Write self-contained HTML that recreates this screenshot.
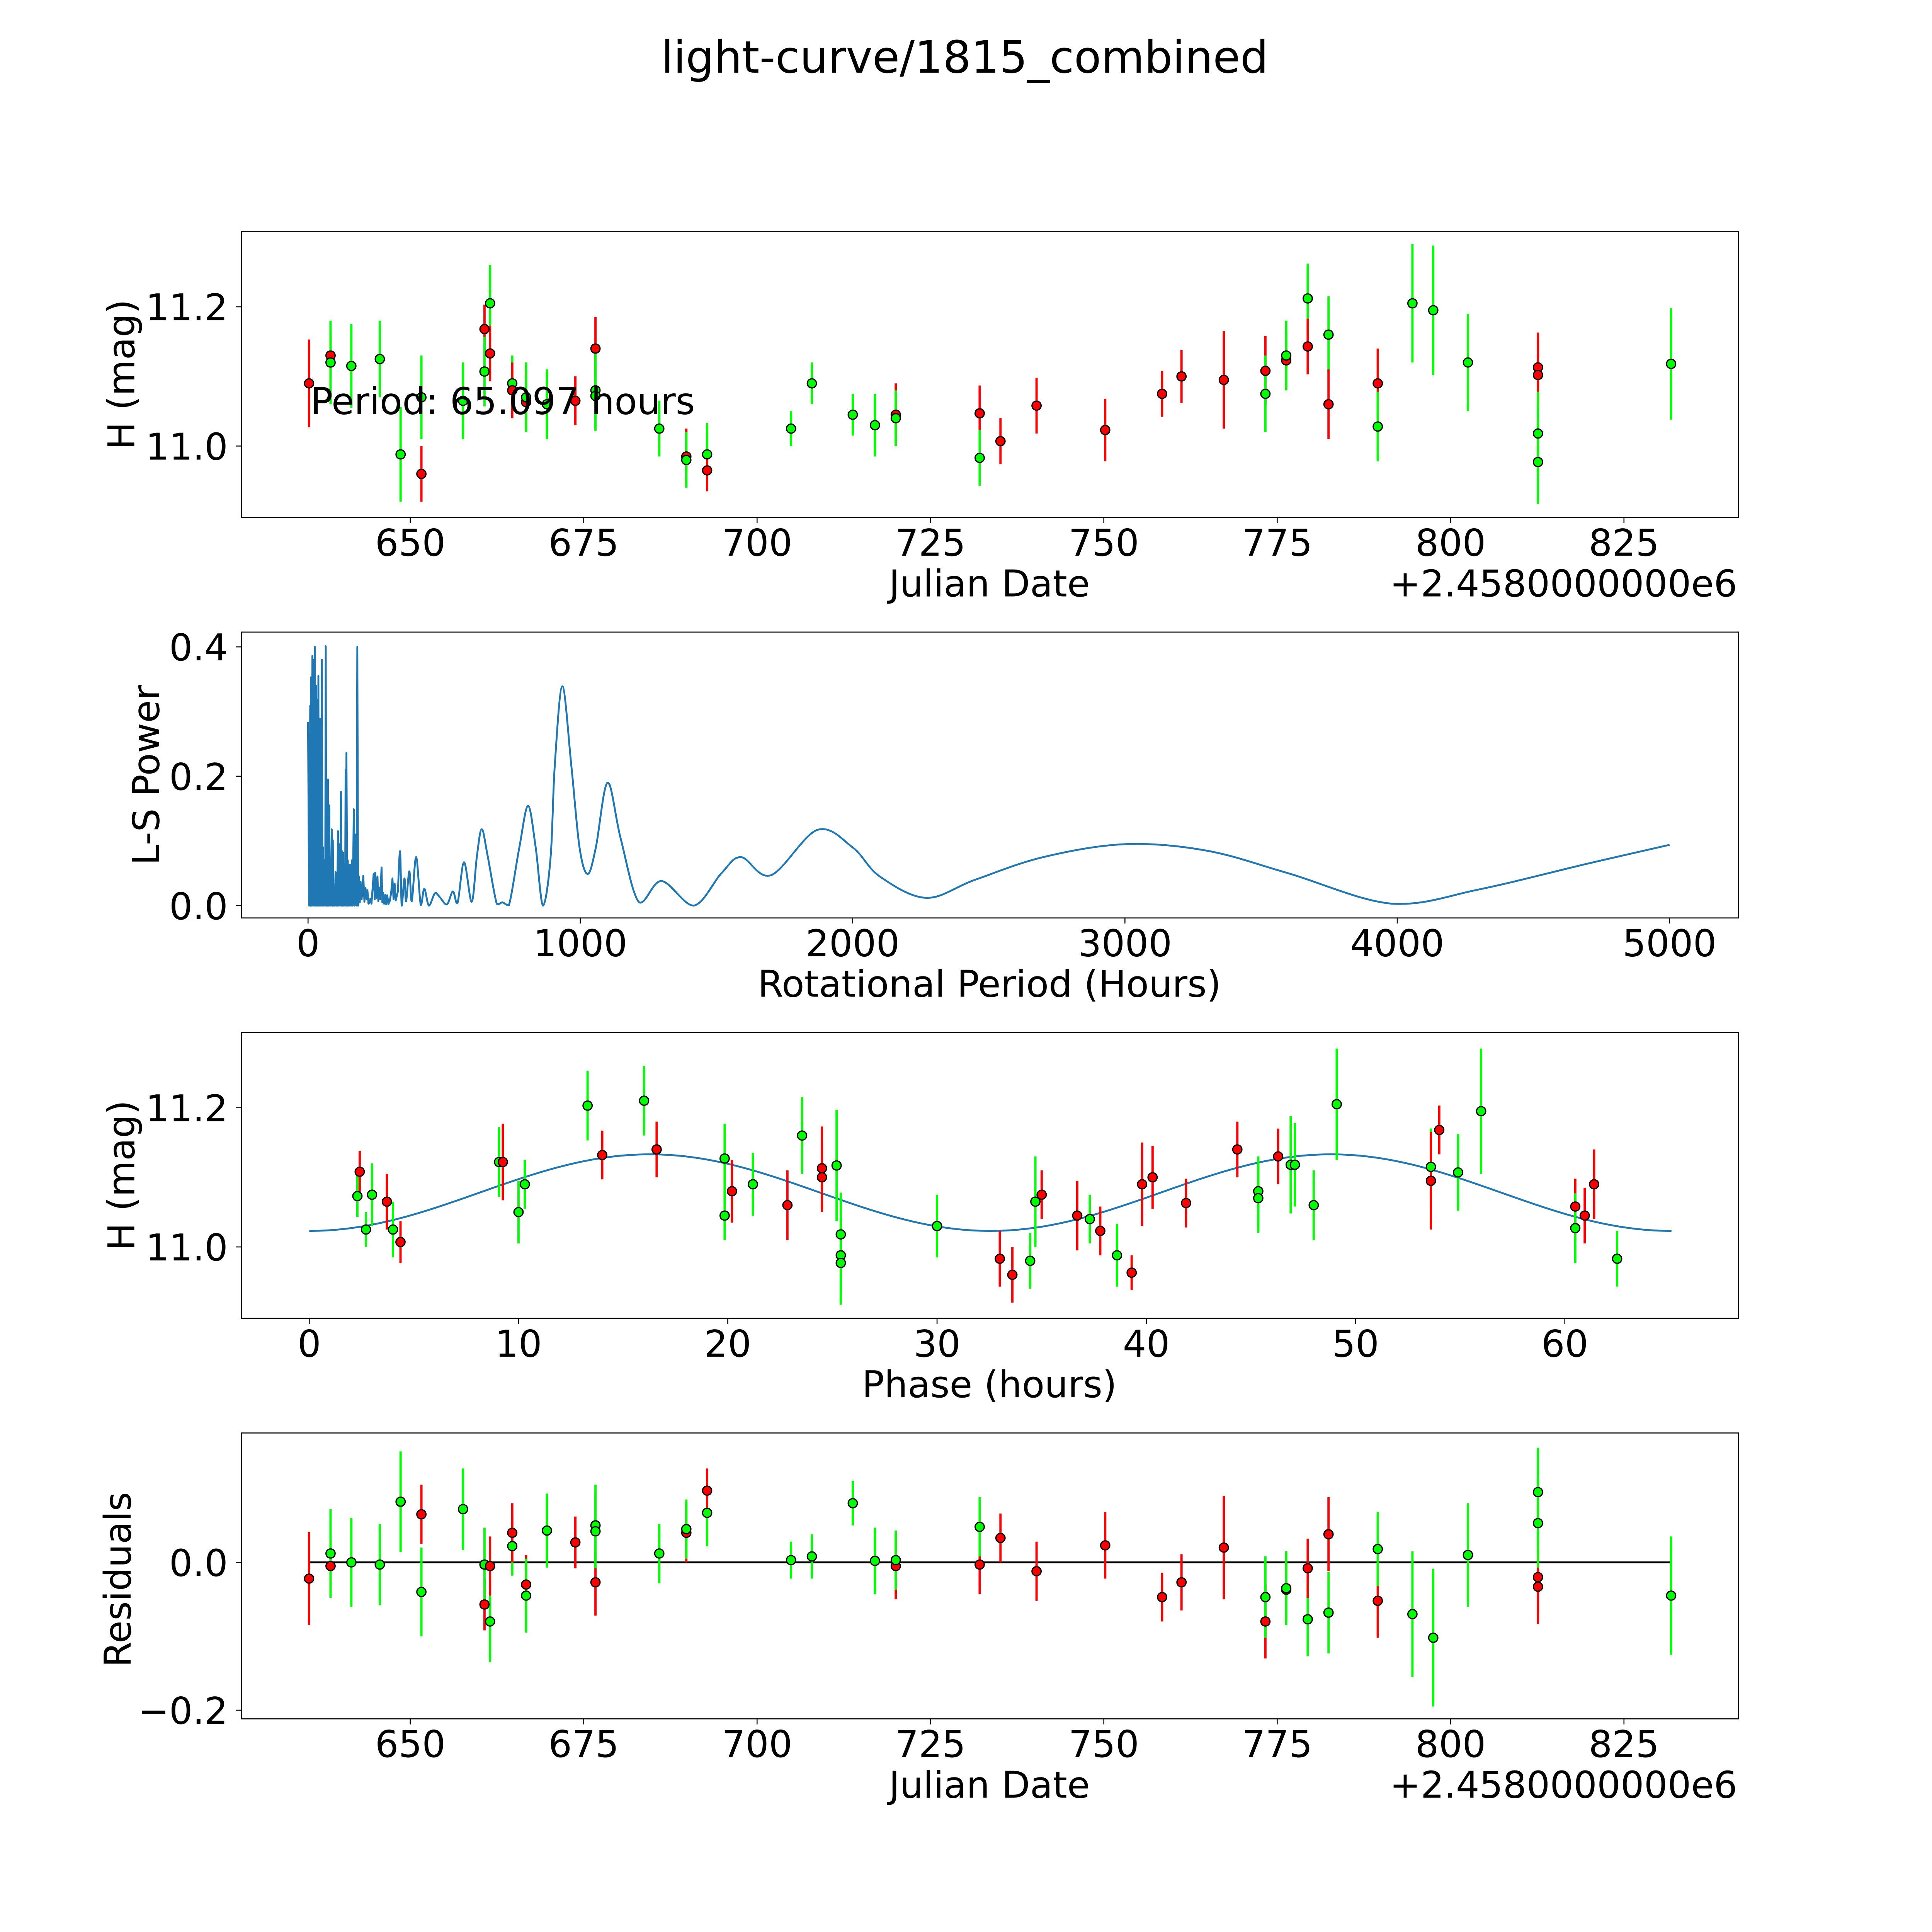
<!DOCTYPE html>
<html><head><meta charset="utf-8"><style>
html,body{margin:0;padding:0;background:#fff;width:100vw;height:100vh;overflow:hidden}
svg{display:block;width:100vw;height:100vh;font-family:"DejaVu Sans","Liberation Sans",sans-serif}
</style></head><body>
<svg id="fig" xmlns="http://www.w3.org/2000/svg" viewBox="0 0 1568 1568" preserveAspectRatio="none">
<rect width="1568" height="1568" fill="#fff"/>
<text x="783" y="59" font-size="36" text-anchor="middle">light-curve/1815_combined</text>
<g id="p1"></g>
<g id="p2"></g>
<g id="p3"></g>
<g id="p4"></g>
</svg>
<script>
// ---- light curve data (JD - 2458000) ----
const lcDates = [635.4,638.5,638.5,641.5,645.6,648.6,651.6,651.6,657.6,660.7,660.7,661.5,661.5,664.7,664.7,666.7,666.7,669.7,673.8,676.7,676.7,676.7,685.9,689.8,689.8,692.8,692.8,704.9,707.9,713.8,717.0,720.0,720.0,732.1,732.1,735.1,740.3,750.2,758.4,761.2,767.3,773.3,773.3,776.3,776.3,779.4,779.4,782.4,782.4,789.5,789.5,794.5,797.5,802.5,812.6,812.6,812.6,812.6,831.8];
const lcMags = [11.09,11.13,11.12,11.115,11.125,10.988,10.96,11.07,11.065,11.168,11.107,11.205,11.133,11.09,11.08,11.063,11.07,11.06,11.065,11.14,11.08,11.072,11.025,10.985,10.98,10.988,10.965,11.025,11.09,11.045,11.03,11.045,11.04,11.047,10.983,11.007,11.058,11.023,11.075,11.1,11.095,11.108,11.075,11.123,11.13,11.212,11.143,11.16,11.06,11.09,11.028,11.205,11.195,11.12,11.113,11.102,11.018,10.977,11.118];
const lcErrs = [0.063,0.034,0.06,0.06,0.055,0.068,0.04,0.06,0.055,0.035,0.05,0.055,0.04,0.04,0.04,0.04,0.05,0.05,0.035,0.045,0.055,0.05,0.04,0.04,0.04,0.045,0.03,0.025,0.03,0.03,0.045,0.045,0.04,0.04,0.04,0.033,0.04,0.045,0.033,0.038,0.07,0.05,0.055,0.04,0.05,0.05,0.04,0.055,0.05,0.05,0.05,0.085,0.093,0.07,0.05,0.05,0.06,0.06,0.08];
const lcColors = ['r','r','g','g','g','g','r','g','g','r','g','g','r','g','r','r','g','g','r','r','g','g','g','r','g','g','r','g','g','g','g','r','g','r','g','r','r','r','r','r','r','r','g','r','g','g','r','g','r','r','g','g','g','g','r','r','g','g','g'];
const resVals = [-0.022,-0.005,0.012,0.0,-0.003,0.082,0.065,-0.04,0.072,-0.057,-0.003,-0.08,-0.005,0.022,0.04,-0.03,-0.045,0.043,0.027,-0.027,0.05,0.042,0.012,0.04,0.045,0.067,0.097,0.003,0.008,0.08,0.002,-0.005,0.003,-0.003,0.048,0.033,-0.012,0.023,-0.047,-0.027,0.02,-0.08,-0.047,-0.037,-0.035,-0.077,-0.008,-0.068,0.038,-0.052,0.018,-0.07,-0.102,0.01,-0.02,-0.033,0.053,0.095,-0.045];
// ---- phase-folded data ----
const phPhases = [2.41,2.3,2.71,3.0,3.71,4.0,4.36,9.07,9.25,10.0,10.3,13.3,14.0,16.0,16.6,19.85,19.85,20.2,21.2,22.85,23.55,24.5,24.5,25.2,25.4,25.4,25.4,30.0,33.0,33.6,34.45,34.7,35.0,36.7,37.3,37.8,38.6,39.3,39.8,40.3,41.9,44.35,45.35,45.35,46.3,46.9,47.1,48.0,49.1,53.6,53.6,54.0,54.9,56.0,60.5,60.5,60.95,61.4,62.5];
const phMags = [11.108,11.073,11.025,11.075,11.065,11.025,11.007,11.122,11.122,11.05,11.09,11.203,11.132,11.21,11.14,11.127,11.045,11.08,11.09,11.06,11.16,11.113,11.1,11.117,11.018,10.988,10.977,11.03,10.983,10.96,10.98,11.065,11.075,11.045,11.04,11.023,10.988,10.963,11.09,11.1,11.063,11.14,11.08,11.07,11.13,11.118,11.118,11.06,11.205,11.115,11.095,11.168,11.107,11.195,11.058,11.027,11.045,11.09,10.983];
const phErrs = [0.03,0.03,0.025,0.045,0.04,0.04,0.03,0.05,0.055,0.045,0.035,0.05,0.035,0.05,0.04,0.05,0.035,0.045,0.045,0.05,0.055,0.06,0.05,0.08,0.06,0.05,0.06,0.045,0.04,0.04,0.04,0.065,0.035,0.05,0.035,0.035,0.045,0.025,0.06,0.045,0.035,0.04,0.05,0.05,0.04,0.07,0.06,0.05,0.08,0.055,0.07,0.035,0.055,0.09,0.04,0.05,0.04,0.05,0.04];
const phColors = ['r','g','g','g','r','g','r','g','r','g','g','g','r','g','r','g','g','r','g','r','g','r','r','g','g','g','g','g','r','r','g','g','r','r','g','r','g','r','r','r','r','r','g','g','r','g','g','g','g','g','r','r','g','g','r','g','r','r','g'];
const modelPeriod = 65.097, modelMean = 11.078, modelAmp = 0.055;
// ---- periodogram ----
const lsPeriodsSpiky = [0,4,8,9.5,11,13,16,18,20,22,25,27,30,32,34,36,38,40,42,44,46,48,51,53,55.5,58,60.5,63,65,67,70,72,73,75,78,80,83,84,87,89,91,93,95,98,101,103,105,107,110,113,115,118,121,123,125,127,129,131,134,136,138,139.5,141,144,146,148,151,154,156,158,161,164,168,171,175,178,181,184,187,190,193,197,203,207,211,215,218,222,225,229,233,241,245,247,251,255,258,262,265,270,273,276,279,284,287,291,295,300,305,310,314,318,322,330];
const lsPowersSpiky = [0.284,0,0.309,0,0.353,0,0.386,0,0.38,0,0.4,0,0.34,0,0.318,0,0.355,0,0.289,0,0.289,0,0.38,0,0.09,0,0.07,0,0.401,0,0.025,0,0.195,0,0.155,0,0.03,0,0.118,0,0.101,0,0.028,0,0.052,0,0.051,0,0.115,0,0.095,0,0.176,0,0.084,0,0.082,0,0.064,0,0.21,0,0.236,0,0.07,0,0.063,0,0.063,0,0.07,0,0.149,0,0.11,0,0.4,0,0.045,0.005,0.037,0.01,0.046,0.006,0.027,0.01,0.024,0.003,0.004,0.011,0.003,0.049,0.01,0.051,0.012,0.045,0.007,0.028,0.01,0.059,0.005,0.02,0.003,0.017,0.002,0.016,0.002,0.007,0.019,0.042,0.01,0.034,0.008,0.022];
const lsPeriodsSmooth = [330,338,344,354,360,372,381,397,414,427,444,466,484,510,532,549,573,601,620,638,660,693,714,738,776,808,836,863,891,906,934,967,997,1027,1057,1100,1148,1216,1298,1416,1518,1590,1700,1870,2000,2100,2270,2450,2700,3000,3300,3600,3980,4300,4700,5000];
const lsPowersSmooth = [0.022,0.084,0,0.042,0.007,0.053,0.007,0.075,0.001,0.026,0,0.019,0.013,0.002,0.022,0.004,0.067,0.006,0.076,0.118,0.076,0.003,0.005,0.001,0.09,0.154,0.09,0,0.076,0.216,0.339,0.216,0.09,0.049,0.09,0.19,0.104,0.005,0.038,0,0.05,0.075,0.047,0.117,0.09,0.045,0.012,0.04,0.075,0.095,0.085,0.05,0.003,0.025,0.065,0.094];
// ---- ticks ----
const jdTicks = [650,675,700,725,750,775,800,825];
const magTicks = [11.0,11.2];
const lsXTicks = [0,1000,2000,3000,4000,5000];
const lsYTicks = [0.0,0.2,0.4];
const phXTicks = [0,10,20,30,40,50,60];
const resTicks = [-0.2,0.0];

const NS='http://www.w3.org/2000/svg';
const FS=30;
function mk(parent,tag,attrs,text){const e=document.createElementNS(NS,tag);for(const k in attrs)e.setAttribute(k,attrs[k]);if(text!==undefined)e.textContent=text;parent.appendChild(e);return e;}
const COL={r:'#ff0000',g:'#00ff00'};
const L=196,R=1411;
function linX(d0,p0,d1,p1){return v=>p0+(v-d0)*(p1-p0)/(d1-d0);}
const xJD=linX(650,333,825,1318);

function frame(g,top,bot){
  const f=mk(g,'rect',{x:L,y:top,width:R-L,height:bot-top,fill:'none',stroke:'#000','stroke-width':0.8});
  
  
}
function xticks(g,ticks,fx,bot,fmt,name){
  ticks.forEach(t=>{const x=fx(t);
    const l=mk(g,'line',{x1:x,x2:x,y1:bot,y2:bot+4.5,stroke:'#000','stroke-width':0.8});
    
    
    const tx=mk(g,'text',{x:x,y:bot+31,'font-size':FS,'text-anchor':'middle'},fmt(t));
    
    
  });
}
function yticks(g,ticks,fy,fmt,name){
  ticks.forEach(t=>{const y=fy(t);
    const l=mk(g,'line',{x1:L-4.5,x2:L,y1:y,y2:y,stroke:'#000','stroke-width':0.8});
    
    
    const tx=mk(g,'text',{x:L-11,y:y+11,'font-size':FS,'text-anchor':'end'},fmt(t));
    
    
  });
}
function ylabel(g,x,y,s,name){
  const t=mk(g,'text',{x:x,y:y,'font-size':FS,'text-anchor':'middle',transform:`rotate(-90 ${x} ${y})`},s);
  
  
}
function xlabel(g,x,y,s,name){
  const t=mk(g,'text',{x:x,y:y,'font-size':FS,'text-anchor':'middle'},s);
  
  
}
function points(g,xs,ys,es,cs,fx,fy,name){
  for(let i=0;i<xs.length;i++){const x=fx(xs[i]);
    const b=mk(g,'line',{x1:x,x2:x,y1:fy(ys[i]-es[i]),y2:fy(ys[i]+es[i]),stroke:COL[cs[i]],'stroke-width':1.85});
    
    
  }
  for(let i=0;i<xs.length;i++){
    const c=mk(g,'circle',{cx:fx(xs[i]),cy:fy(ys[i]),r:3.7,fill:COL[cs[i]],stroke:'#000','stroke-width':1});
    
    
  }
}
const f2=v=>(v<0?'\u2212':'')+Math.abs(v).toFixed(1);

// Panel 1
(function(){const g=document.getElementById('p1');const top=188,bot=420;
  const fy=m=>362-(m-11)*565;
  frame(g,top,bot);
  points(g,lcDates,lcMags,lcErrs,lcColors,xJD,fy,'lc-point');
  xticks(g,jdTicks,xJD,bot,v=>String(v),'x-tick-label');
  yticks(g,magTicks,fy,v=>v.toFixed(1),'y-tick-label');
  xlabel(g,803,484,'Julian Date','x-axis-title');
  const o=mk(g,'text',{x:1410,y:484,'font-size':FS,'text-anchor':'end'},'+2.4580000000e6');
  
  
  ylabel(g,109,304,'H (mag)','y-axis-title');
  const p=mk(g,'text',{x:252,y:336,'font-size':FS},'Period: 65.097 hours');
  
  
})();

// Panel 2
(function(){const g=document.getElementById('p2');const top=513,bot=745;
  const fx=linX(0,250,5000,1355), fy=v=>735-v*525;
  frame(g,top,bot);
  const pts=[];
  for(let i=0;i<lsPeriodsSpiky.length;i++)pts.push([fx(lsPeriodsSpiky[i]),fy(lsPowersSpiky[i])]);
  let d='M'+pts.map(p=>p[0].toFixed(2)+','+p[1].toFixed(2)).join(' L');
  const sp=[];for(let i=0;i<lsPeriodsSmooth.length;i++)sp.push([fx(lsPeriodsSmooth[i]),fy(lsPowersSmooth[i])]);
  for(let i=0;i<sp.length-1;i++){
    const p0=sp[Math.max(0,i-1)],p1=sp[i],p2=sp[i+1],p3=sp[Math.min(sp.length-1,i+2)];
    const c1=[p1[0]+(p2[0]-p0[0])/6,p1[1]+(p2[1]-p0[1])/6],c2=[p2[0]-(p3[0]-p1[0])/6,p2[1]-(p3[1]-p1[1])/6];
    c1[1]=Math.min(c1[1],735);c2[1]=Math.min(c2[1],735);
    if(i===0)d+=' L'+p1[0]+','+p1[1];
    d+=` C${c1[0].toFixed(2)},${c1[1].toFixed(2)} ${c2[0].toFixed(2)},${c2[1].toFixed(2)} ${p2[0].toFixed(2)},${p2[1].toFixed(2)}`;
  }
  const path=mk(g,'path',{d:d,fill:'none',stroke:'#1f77b4','stroke-width':1.5,'stroke-linejoin':'round'});
  
  
  xticks(g,lsXTicks,fx,bot,v=>String(v),'x-tick-label');
  yticks(g,lsYTicks,fy,v=>v.toFixed(1),'y-tick-label');
  xlabel(g,803,809,'Rotational Period (Hours)','x-axis-title');
  ylabel(g,129,629,'L-S Power','y-axis-title');
})();

// Panel 3
(function(){const g=document.getElementById('p3');const top=838,bot=1070;
  const fx=linX(0,251,60,1270), fy=m=>1012-(m-11)*565;
  frame(g,top,bot);
  let d='';
  for(let i=0;i<=260;i++){const ph=modelPeriod*i/260;
    const m=modelMean-modelAmp*Math.cos(2*Math.PI*2*ph/modelPeriod);
    d+=(i?' L':'M')+fx(ph).toFixed(2)+','+fy(m).toFixed(2);}
  const c=mk(g,'path',{d:d,fill:'none',stroke:'#1f77b4','stroke-width':1.5});
  
  
  points(g,phPhases,phMags,phErrs,phColors,fx,fy,'phase-point');
  xticks(g,phXTicks,fx,bot,v=>String(v),'x-tick-label');
  yticks(g,magTicks,fy,v=>v.toFixed(1),'y-tick-label');
  xlabel(g,803,1134,'Phase (hours)','x-axis-title');
  ylabel(g,109,954,'H (mag)','y-axis-title');
})();

// Panel 4
(function(){const g=document.getElementById('p4');const top=1163,bot=1395;
  const fy=v=>1268-v*600;
  frame(g,top,bot);
  const z=mk(g,'line',{x1:xJD(lcDates[0]),x2:xJD(lcDates[lcDates.length-1]),y1:fy(0),y2:fy(0),stroke:'#000','stroke-width':1.5});
  
  
  points(g,lcDates,resVals,lcErrs,lcColors,xJD,fy,'residual-point');
  xticks(g,jdTicks,xJD,bot,v=>String(v),'x-tick-label');
  yticks(g,resTicks,fy,f2,'y-tick-label');
  xlabel(g,803,1459,'Julian Date','x-axis-title');
  const o=mk(g,'text',{x:1410,y:1459,'font-size':FS,'text-anchor':'end'},'+2.4580000000e6');
  
  
  ylabel(g,106,1282,'Residuals','y-axis-title');
})();
</script>
</body></html>
